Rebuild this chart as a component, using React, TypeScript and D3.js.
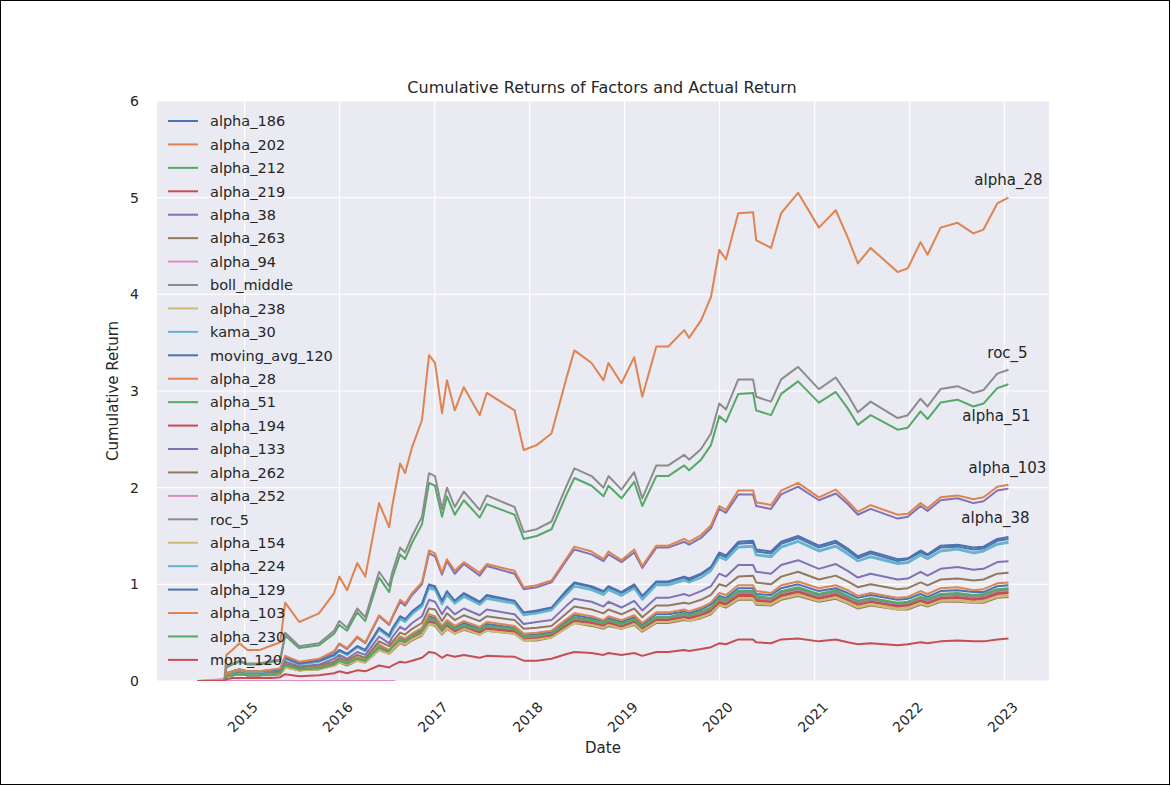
import React, { useEffect, useRef } from 'react';
import * as d3 from 'd3';

// sample dates shared by every series
const DATES = [
    '2014-07-04', '2014-10-15', '2014-10-23', '2014-11-15', '2014-12-12', '2015-01-12', '2015-02-26', '2015-04-17', '2015-05-18', '2015-06-06',
    '2015-07-30', '2015-10-14', '2015-12-11', '2015-12-31', '2016-01-30', '2016-03-09', '2016-04-09', '2016-06-01', '2016-07-10', '2016-07-21',
    '2016-08-21', '2016-09-09', '2016-10-06', '2016-11-13', '2016-12-10', '2017-01-02', '2017-01-29', '2017-02-17', '2017-03-19', '2017-04-23',
    '2017-06-23', '2017-07-20', '2017-11-04', '2017-12-09', '2018-01-28', '2018-03-26', '2018-05-23', '2018-06-22', '2018-08-27', '2018-10-12',
    '2018-10-31', '2018-12-20', '2019-02-07', '2019-03-10', '2019-05-03', '2019-06-18', '2019-08-18', '2019-09-06', '2019-10-22', '2019-11-29',
    '2019-12-31', '2020-01-26', '2020-03-13', '2020-05-09', '2020-05-21', '2020-07-17', '2020-08-25', '2020-10-29', '2021-01-17', '2021-03-23',
    '2021-05-08', '2021-06-16', '2021-08-04', '2021-11-16', '2021-12-25', '2022-02-12', '2022-03-11', '2022-04-30', '2022-07-04', '2022-09-03',
    '2022-10-12', '2022-12-04', '2023-01-16',
];

const alpha_186 = [0, 0, 0.05, 0.06, 0.08, 0.06, 0.06, 0.07, 0.08, 0.16, 0.12, 0.14, 0.18, 0.21, 0.19, 0.24, 0.21, 0.36, 0.31, 0.36, 0.45, 0.43, 0.48, 0.53, 0.67, 0.65, 0.55, 0.62, 0.55, 0.60, 0.54, 0.59, 0.55, 0.47, 0.48, 0.51, 0.62, 0.68, 0.65, 0.62, 0.65, 0.61, 0.66, 0.58, 0.69, 0.69, 0.72, 0.70, 0.74, 0.79, 0.88, 0.86, 0.96, 0.96, 0.90, 0.89, 0.96, 1.00, 0.93, 0.96, 0.91, 0.86, 0.89, 0.84, 0.85, 0.90, 0.87, 0.93, 0.94, 0.92, 0.92, 0.98, 0.99];
const alpha_202 = [0, 0, 0.06, 0.07, 0.08, 0.07, 0.07, 0.08, 0.08, 0.17, 0.12, 0.14, 0.19, 0.22, 0.19, 0.25, 0.22, 0.38, 0.32, 0.37, 0.46, 0.44, 0.49, 0.55, 0.69, 0.67, 0.57, 0.63, 0.57, 0.62, 0.56, 0.61, 0.57, 0.49, 0.50, 0.52, 0.64, 0.70, 0.67, 0.63, 0.67, 0.63, 0.68, 0.60, 0.71, 0.71, 0.74, 0.72, 0.76, 0.81, 0.91, 0.89, 0.99, 0.99, 0.93, 0.91, 0.99, 1.03, 0.96, 0.99, 0.94, 0.88, 0.91, 0.86, 0.87, 0.93, 0.90, 0.96, 0.97, 0.94, 0.95, 1.01, 1.02];
const alpha_212 = [0, 0, 0.05, 0.06, 0.07, 0.06, 0.06, 0.07, 0.08, 0.15, 0.12, 0.13, 0.17, 0.21, 0.18, 0.23, 0.21, 0.35, 0.30, 0.34, 0.43, 0.41, 0.46, 0.51, 0.64, 0.63, 0.53, 0.59, 0.53, 0.58, 0.52, 0.57, 0.53, 0.45, 0.46, 0.49, 0.60, 0.65, 0.63, 0.59, 0.63, 0.59, 0.64, 0.56, 0.66, 0.66, 0.69, 0.67, 0.71, 0.75, 0.85, 0.83, 0.92, 0.92, 0.87, 0.85, 0.92, 0.96, 0.89, 0.93, 0.87, 0.82, 0.85, 0.80, 0.81, 0.86, 0.84, 0.89, 0.90, 0.88, 0.89, 0.94, 0.95];
const alpha_219 = [0, 0, 0.05, 0.06, 0.07, 0.06, 0.06, 0.07, 0.07, 0.15, 0.11, 0.13, 0.17, 0.20, 0.17, 0.22, 0.20, 0.34, 0.29, 0.33, 0.41, 0.40, 0.45, 0.50, 0.62, 0.61, 0.51, 0.57, 0.52, 0.56, 0.51, 0.55, 0.52, 0.44, 0.45, 0.47, 0.58, 0.63, 0.61, 0.57, 0.61, 0.57, 0.62, 0.54, 0.64, 0.64, 0.67, 0.65, 0.69, 0.73, 0.82, 0.80, 0.89, 0.89, 0.84, 0.82, 0.89, 0.93, 0.86, 0.90, 0.84, 0.79, 0.82, 0.78, 0.79, 0.84, 0.81, 0.86, 0.87, 0.85, 0.86, 0.91, 0.92];
const alpha_38 = [0, 0, 0.08, 0.10, 0.12, 0.10, 0.10, 0.11, 0.12, 0.25, 0.19, 0.22, 0.30, 0.38, 0.33, 0.45, 0.39, 0.67, 0.58, 0.65, 0.82, 0.78, 0.89, 1.00, 1.32, 1.29, 1.10, 1.24, 1.11, 1.21, 1.09, 1.19, 1.11, 0.95, 0.97, 1.02, 1.25, 1.36, 1.31, 1.24, 1.31, 1.23, 1.33, 1.17, 1.38, 1.38, 1.44, 1.41, 1.48, 1.58, 1.78, 1.74, 1.93, 1.93, 1.81, 1.78, 1.93, 2.01, 1.87, 1.94, 1.83, 1.72, 1.78, 1.68, 1.70, 1.81, 1.76, 1.87, 1.89, 1.84, 1.86, 1.97, 1.99];
const alpha_263 = [0, 0, 0.05, 0.06, 0.07, 0.06, 0.06, 0.06, 0.07, 0.14, 0.11, 0.12, 0.16, 0.19, 0.16, 0.21, 0.19, 0.32, 0.28, 0.31, 0.39, 0.37, 0.42, 0.47, 0.59, 0.57, 0.48, 0.54, 0.49, 0.53, 0.48, 0.52, 0.49, 0.42, 0.42, 0.45, 0.55, 0.60, 0.57, 0.54, 0.57, 0.54, 0.58, 0.51, 0.60, 0.60, 0.63, 0.62, 0.65, 0.69, 0.78, 0.76, 0.84, 0.84, 0.79, 0.78, 0.84, 0.88, 0.82, 0.85, 0.80, 0.75, 0.78, 0.74, 0.74, 0.79, 0.77, 0.82, 0.82, 0.81, 0.81, 0.86, 0.87];
const alpha_94 = [0, 0.02, 0.01, 0, 0, 0, 0, 0, 0, 0, 0, 0, 0, 0, 0, 0, 0, 0, 0, 0, -0.02, -0.02, -0.02, -0.02, -0.03, -0.03, -0.03, -0.03, -0.03, -0.03, -0.03, -0.03, -0.03, -0.03, -0.03, -0.03, -0.03, -0.03, -0.03, -0.03, -0.03, -0.03, -0.03, -0.03, -0.03, -0.03, -0.03, -0.03, -0.03, -0.03, -0.03, -0.03, -0.03, -0.03, -0.03, -0.03, -0.03, -0.03, -0.03, -0.03, -0.03, -0.03, -0.03, -0.03, -0.03, -0.03, -0.03, -0.03, -0.03, -0.03, -0.03, -0.03, -0.03];
const boll_middle = [0, 0, 0.05, 0.06, 0.07, 0.06, 0.06, 0.07, 0.08, 0.15, 0.11, 0.13, 0.17, 0.20, 0.18, 0.23, 0.20, 0.35, 0.30, 0.34, 0.42, 0.40, 0.45, 0.51, 0.63, 0.62, 0.52, 0.58, 0.53, 0.57, 0.52, 0.56, 0.53, 0.45, 0.46, 0.48, 0.59, 0.64, 0.62, 0.58, 0.62, 0.58, 0.63, 0.55, 0.65, 0.65, 0.68, 0.67, 0.70, 0.75, 0.84, 0.82, 0.91, 0.91, 0.86, 0.84, 0.91, 0.95, 0.88, 0.92, 0.86, 0.81, 0.84, 0.80, 0.80, 0.85, 0.83, 0.88, 0.89, 0.87, 0.88, 0.93, 0.94];
const alpha_238 = [0, 0, 0.05, 0.06, 0.07, 0.06, 0.06, 0.07, 0.07, 0.14, 0.11, 0.12, 0.16, 0.19, 0.17, 0.22, 0.19, 0.33, 0.28, 0.32, 0.40, 0.38, 0.43, 0.48, 0.60, 0.59, 0.49, 0.55, 0.50, 0.54, 0.49, 0.53, 0.50, 0.43, 0.43, 0.46, 0.56, 0.61, 0.59, 0.55, 0.59, 0.55, 0.60, 0.52, 0.62, 0.62, 0.65, 0.63, 0.66, 0.71, 0.79, 0.78, 0.86, 0.86, 0.81, 0.80, 0.86, 0.90, 0.83, 0.87, 0.82, 0.77, 0.80, 0.75, 0.76, 0.81, 0.78, 0.83, 0.84, 0.82, 0.83, 0.88, 0.89];
const kama_30 = [0, 0, 0.08, 0.09, 0.11, 0.09, 0.09, 0.11, 0.11, 0.23, 0.17, 0.20, 0.26, 0.31, 0.27, 0.35, 0.31, 0.53, 0.45, 0.51, 0.64, 0.61, 0.69, 0.77, 0.96, 0.94, 0.79, 0.89, 0.80, 0.87, 0.79, 0.85, 0.80, 0.68, 0.70, 0.73, 0.90, 0.98, 0.94, 0.89, 0.94, 0.88, 0.96, 0.84, 0.99, 0.99, 1.04, 1.02, 1.07, 1.14, 1.28, 1.25, 1.38, 1.39, 1.30, 1.28, 1.38, 1.44, 1.34, 1.39, 1.31, 1.24, 1.28, 1.21, 1.22, 1.30, 1.26, 1.34, 1.36, 1.32, 1.34, 1.41, 1.43];
const moving_avg_120 = [0, 0, 0.08, 0.09, 0.11, 0.09, 0.09, 0.11, 0.12, 0.24, 0.18, 0.21, 0.27, 0.32, 0.28, 0.36, 0.32, 0.54, 0.47, 0.53, 0.66, 0.63, 0.71, 0.79, 0.99, 0.97, 0.81, 0.91, 0.82, 0.89, 0.81, 0.88, 0.82, 0.70, 0.72, 0.75, 0.92, 1.01, 0.97, 0.91, 0.97, 0.91, 0.98, 0.86, 1.02, 1.02, 1.07, 1.04, 1.10, 1.17, 1.31, 1.28, 1.42, 1.43, 1.34, 1.32, 1.42, 1.48, 1.38, 1.43, 1.35, 1.27, 1.32, 1.24, 1.26, 1.33, 1.30, 1.38, 1.39, 1.36, 1.37, 1.45, 1.47];
const alpha_28 = [0, 0, 0.27, 0.32, 0.39, 0.32, 0.32, 0.37, 0.40, 0.81, 0.61, 0.70, 0.91, 1.08, 0.94, 1.22, 1.08, 1.84, 1.59, 1.80, 2.25, 2.15, 2.42, 2.70, 3.37, 3.29, 2.77, 3.11, 2.80, 3.04, 2.75, 2.98, 2.80, 2.39, 2.44, 2.56, 3.14, 3.42, 3.29, 3.11, 3.29, 3.08, 3.35, 2.94, 3.46, 3.46, 3.63, 3.55, 3.73, 3.97, 4.46, 4.36, 4.84, 4.85, 4.56, 4.48, 4.84, 5.05, 4.69, 4.87, 4.59, 4.32, 4.48, 4.23, 4.27, 4.54, 4.41, 4.69, 4.74, 4.63, 4.67, 4.94, 5.00];
const alpha_51 = [0, 0, 0.14, 0.17, 0.20, 0.17, 0.17, 0.20, 0.21, 0.47, 0.34, 0.37, 0.49, 0.58, 0.52, 0.71, 0.62, 1.07, 0.92, 1.06, 1.31, 1.26, 1.43, 1.62, 2.05, 2.02, 1.70, 1.91, 1.72, 1.87, 1.69, 1.83, 1.72, 1.47, 1.50, 1.57, 1.93, 2.10, 2.02, 1.91, 2.02, 1.89, 2.06, 1.81, 2.12, 2.12, 2.23, 2.18, 2.29, 2.44, 2.74, 2.68, 2.97, 2.98, 2.80, 2.75, 2.97, 3.10, 2.88, 2.99, 2.82, 2.65, 2.75, 2.60, 2.62, 2.79, 2.71, 2.88, 2.91, 2.84, 2.87, 3.03, 3.07];
const alpha_194 = [0, 0, 0.05, 0.06, 0.07, 0.06, 0.06, 0.07, 0.07, 0.15, 0.11, 0.13, 0.17, 0.20, 0.17, 0.22, 0.20, 0.33, 0.29, 0.33, 0.41, 0.39, 0.44, 0.49, 0.61, 0.60, 0.50, 0.57, 0.51, 0.55, 0.50, 0.54, 0.51, 0.43, 0.44, 0.47, 0.57, 0.62, 0.60, 0.57, 0.60, 0.56, 0.61, 0.54, 0.63, 0.63, 0.66, 0.65, 0.68, 0.72, 0.81, 0.79, 0.88, 0.88, 0.83, 0.82, 0.88, 0.92, 0.85, 0.89, 0.84, 0.79, 0.82, 0.77, 0.78, 0.83, 0.80, 0.85, 0.86, 0.84, 0.85, 0.90, 0.91];
const alpha_133 = [0, 0, 0.07, 0.08, 0.10, 0.08, 0.08, 0.09, 0.10, 0.20, 0.15, 0.17, 0.23, 0.27, 0.23, 0.30, 0.27, 0.46, 0.39, 0.45, 0.56, 0.53, 0.60, 0.67, 0.84, 0.82, 0.69, 0.77, 0.69, 0.75, 0.68, 0.74, 0.69, 0.59, 0.61, 0.63, 0.78, 0.85, 0.82, 0.77, 0.82, 0.76, 0.83, 0.73, 0.86, 0.86, 0.90, 0.88, 0.93, 0.98, 1.11, 1.08, 1.20, 1.20, 1.13, 1.11, 1.20, 1.25, 1.16, 1.21, 1.14, 1.07, 1.11, 1.05, 1.06, 1.13, 1.09, 1.16, 1.18, 1.15, 1.16, 1.23, 1.24];
const alpha_262 = [0, 0, 0.06, 0.07, 0.09, 0.07, 0.07, 0.08, 0.09, 0.18, 0.14, 0.16, 0.20, 0.24, 0.21, 0.27, 0.24, 0.41, 0.36, 0.40, 0.50, 0.48, 0.54, 0.60, 0.75, 0.74, 0.62, 0.70, 0.63, 0.68, 0.62, 0.67, 0.63, 0.54, 0.55, 0.57, 0.70, 0.77, 0.74, 0.70, 0.74, 0.69, 0.75, 0.66, 0.78, 0.78, 0.81, 0.80, 0.84, 0.89, 1.00, 0.98, 1.08, 1.09, 1.02, 1.00, 1.08, 1.13, 1.05, 1.09, 1.03, 0.97, 1.00, 0.95, 0.96, 1.02, 0.99, 1.05, 1.06, 1.04, 1.05, 1.11, 1.12];
const alpha_252 = [0, 0.01, 0.01, 0, 0, 0, 0, 0, 0, 0, 0, 0, 0, 0, 0, 0, 0, 0, 0, 0, -0.02, -0.02, -0.02, -0.02, -0.03, -0.03, -0.03, -0.03, -0.03, -0.03, -0.03, -0.03, -0.03, -0.03, -0.03, -0.03, -0.03, -0.03, -0.03, -0.03, -0.03, -0.03, -0.03, -0.03, -0.03, -0.03, -0.03, -0.03, -0.03, -0.03, -0.03, -0.03, -0.03, -0.03, -0.03, -0.03, -0.03, -0.03, -0.03, -0.03, -0.03, -0.03, -0.03, -0.03, -0.03, -0.03, -0.03, -0.03, -0.03, -0.03, -0.03, -0.03, -0.03];
const roc_5 = [0, 0, 0.15, 0.18, 0.21, 0.18, 0.18, 0.21, 0.22, 0.50, 0.36, 0.39, 0.52, 0.62, 0.55, 0.75, 0.66, 1.13, 0.98, 1.12, 1.38, 1.33, 1.50, 1.70, 2.15, 2.12, 1.78, 2.00, 1.80, 1.96, 1.77, 1.92, 1.80, 1.54, 1.57, 1.65, 2.02, 2.20, 2.12, 2.00, 2.12, 1.98, 2.16, 1.89, 2.23, 2.23, 2.34, 2.29, 2.40, 2.56, 2.87, 2.81, 3.12, 3.12, 2.94, 2.89, 3.12, 3.25, 3.02, 3.14, 2.96, 2.78, 2.89, 2.72, 2.75, 2.92, 2.84, 3.02, 3.05, 2.98, 3.01, 3.18, 3.22];
const alpha_154 = [0, 0, 0.05, 0.06, 0.07, 0.06, 0.06, 0.07, 0.07, 0.14, 0.11, 0.12, 0.16, 0.19, 0.17, 0.21, 0.19, 0.32, 0.28, 0.32, 0.40, 0.38, 0.43, 0.48, 0.59, 0.58, 0.49, 0.55, 0.49, 0.54, 0.48, 0.52, 0.49, 0.42, 0.43, 0.45, 0.55, 0.60, 0.58, 0.55, 0.58, 0.54, 0.59, 0.52, 0.61, 0.61, 0.64, 0.62, 0.66, 0.70, 0.78, 0.77, 0.85, 0.85, 0.80, 0.79, 0.85, 0.89, 0.83, 0.86, 0.81, 0.76, 0.79, 0.74, 0.75, 0.80, 0.78, 0.83, 0.83, 0.81, 0.82, 0.87, 0.88];
const alpha_224 = [0, 0, 0.08, 0.09, 0.11, 0.09, 0.09, 0.11, 0.12, 0.23, 0.18, 0.20, 0.26, 0.31, 0.27, 0.35, 0.31, 0.53, 0.46, 0.52, 0.65, 0.62, 0.70, 0.78, 0.97, 0.95, 0.80, 0.90, 0.81, 0.88, 0.79, 0.86, 0.81, 0.69, 0.70, 0.74, 0.90, 0.98, 0.95, 0.90, 0.95, 0.89, 0.96, 0.85, 1.00, 1.00, 1.05, 1.02, 1.07, 1.14, 1.28, 1.26, 1.39, 1.40, 1.31, 1.29, 1.39, 1.45, 1.35, 1.40, 1.32, 1.24, 1.29, 1.22, 1.23, 1.31, 1.27, 1.35, 1.37, 1.33, 1.35, 1.42, 1.44];
const alpha_129 = [0, 0, 0.08, 0.10, 0.12, 0.10, 0.10, 0.11, 0.12, 0.24, 0.18, 0.21, 0.27, 0.32, 0.28, 0.36, 0.32, 0.55, 0.47, 0.54, 0.67, 0.64, 0.72, 0.80, 1.00, 0.98, 0.83, 0.93, 0.83, 0.91, 0.82, 0.89, 0.83, 0.71, 0.73, 0.76, 0.94, 1.02, 0.98, 0.93, 0.98, 0.92, 1.00, 0.88, 1.03, 1.03, 1.08, 1.06, 1.11, 1.18, 1.33, 1.30, 1.44, 1.45, 1.36, 1.34, 1.44, 1.50, 1.40, 1.45, 1.37, 1.29, 1.34, 1.26, 1.27, 1.35, 1.31, 1.40, 1.41, 1.38, 1.39, 1.47, 1.49];
const alpha_103 = [0, 0, 0.08, 0.10, 0.12, 0.10, 0.10, 0.12, 0.13, 0.26, 0.20, 0.23, 0.31, 0.39, 0.34, 0.46, 0.40, 0.68, 0.59, 0.66, 0.84, 0.80, 0.91, 1.02, 1.35, 1.32, 1.12, 1.26, 1.14, 1.23, 1.12, 1.21, 1.14, 0.97, 0.99, 1.04, 1.27, 1.39, 1.34, 1.26, 1.34, 1.25, 1.36, 1.19, 1.40, 1.40, 1.47, 1.44, 1.51, 1.61, 1.81, 1.77, 1.97, 1.97, 1.85, 1.82, 1.97, 2.05, 1.90, 1.98, 1.86, 1.75, 1.82, 1.72, 1.73, 1.84, 1.79, 1.90, 1.92, 1.88, 1.90, 2.01, 2.03];
const alpha_230 = [0, 0, 0.05, 0.06, 0.07, 0.06, 0.06, 0.07, 0.08, 0.16, 0.12, 0.13, 0.17, 0.21, 0.18, 0.23, 0.21, 0.35, 0.31, 0.35, 0.43, 0.41, 0.46, 0.52, 0.65, 0.63, 0.53, 0.60, 0.54, 0.58, 0.53, 0.57, 0.54, 0.46, 0.47, 0.49, 0.60, 0.66, 0.63, 0.60, 0.63, 0.59, 0.64, 0.56, 0.66, 0.66, 0.70, 0.68, 0.72, 0.76, 0.86, 0.84, 0.93, 0.93, 0.88, 0.86, 0.93, 0.97, 0.90, 0.94, 0.88, 0.83, 0.86, 0.81, 0.82, 0.87, 0.85, 0.90, 0.91, 0.89, 0.90, 0.95, 0.96];
const mom_120 = [0, 0, 0.02, 0.03, 0.03, 0.03, 0.03, 0.03, 0.04, 0.07, 0.05, 0.06, 0.08, 0.10, 0.08, 0.11, 0.10, 0.16, 0.14, 0.16, 0.20, 0.19, 0.21, 0.24, 0.30, 0.29, 0.24, 0.27, 0.25, 0.27, 0.24, 0.26, 0.25, 0.21, 0.21, 0.23, 0.28, 0.30, 0.29, 0.27, 0.29, 0.27, 0.29, 0.26, 0.30, 0.30, 0.32, 0.31, 0.33, 0.35, 0.39, 0.38, 0.43, 0.43, 0.40, 0.39, 0.43, 0.44, 0.41, 0.43, 0.40, 0.38, 0.39, 0.37, 0.38, 0.40, 0.39, 0.41, 0.42, 0.41, 0.41, 0.43, 0.44];

const SERIES_NAMES = [
    'alpha_186', 'alpha_202', 'alpha_212', 'alpha_219', 'alpha_38', 'alpha_263', 'alpha_94', 'boll_middle',
    'alpha_238', 'kama_30', 'moving_avg_120', 'alpha_28', 'alpha_51', 'alpha_194', 'alpha_133', 'alpha_262',
    'alpha_252', 'roc_5', 'alpha_154', 'alpha_224', 'alpha_129', 'alpha_103', 'alpha_230', 'mom_120',
];
const SERIES_VALUES = [
    alpha_186, alpha_202, alpha_212, alpha_219, alpha_38, alpha_263, alpha_94, boll_middle,
    alpha_238, kama_30, moving_avg_120, alpha_28, alpha_51, alpha_194, alpha_133, alpha_262,
    alpha_252, roc_5, alpha_154, alpha_224, alpha_129, alpha_103, alpha_230, mom_120,
];

// labelled end points and where their text sits (pixel offset from the point)
const LABELLED = ['alpha_28', 'roc_5', 'alpha_51', 'alpha_103', 'alpha_38'];
const LABEL_OFFSETS = [[0, -18], [-1, -17], [-12, 31], [-1, -17], [-13, 29]];

const Y_TICKS = [0, 1, 2, 3, 4, 5, 6];
const X_TICK_YEARS = ['2015', '2016', '2017', '2018', '2019', '2020', '2021', '2022', '2023'];

// seaborn "deep"
const PALETTE = ['#4C72B0', '#DD8452', '#55A868', '#C44E52', '#8172B3', '#937860', '#DA8BC3', '#8C8C8C', '#CCB974', '#64B5CD'];

const W = 1171;
const H = 786;
const FONT = '"DejaVu Sans", Verdana, sans-serif';
const TEXT = '#262626';

function App() {
    const ref = useRef(null);

    useEffect(() => {
        const root = d3.select(ref.current);
        root.selectAll('*').remove();

        const svg = root.append('svg')
            .attr('width', W)
            .attr('height', H)
            .style('display', 'block')
            .style('background', '#fff');

        // frame round the picture
        svg.append('rect')
            .attr('x', 0.5).attr('y', 0.5)
            .attr('width', W - 2).attr('height', H - 2)
            .attr('fill', 'none').attr('stroke', '#000').attr('stroke-width', 1);

        const left = 157, right = 1049, top = 101, bottom = 681;

        const parse = d3.timeParse('%Y-%m-%d');
        const dates = DATES.map(parse);
        const [d0, d1] = d3.extent(dates);
        const pad = (d1.getTime() - d0.getTime()) * 0.05;

        const x = d3.scaleTime()
            .domain([new Date(d0.getTime() - pad), new Date(d1.getTime() + pad)])
            .range([left, right]);
        const y = d3.scaleLinear().domain([0, 6]).range([bottom, top]);

        svg.append('rect')
            .attr('x', left).attr('y', top)
            .attr('width', right - left).attr('height', bottom - top)
            .attr('fill', '#EAEAF2');

        svg.append('clipPath').attr('id', 'plot-clip')
            .append('rect')
            .attr('x', left).attr('y', top)
            .attr('width', right - left).attr('height', bottom - top);

        const xTicks = X_TICK_YEARS.map((t) => parse(`${t}-01-01`));

        // grid
        const grid = svg.append('g').attr('stroke', '#fff').attr('stroke-width', 1.2);
        grid.selectAll('.gx').data(xTicks).enter().append('line')
            .attr('x1', (d) => x(d)).attr('x2', (d) => x(d))
            .attr('y1', top).attr('y2', bottom);
        grid.selectAll('.gy').data(Y_TICKS).enter().append('line')
            .attr('x1', left).attr('x2', right)
            .attr('y1', (d) => y(d)).attr('y2', (d) => y(d));

        // lines
        const line = d3.line()
            .x((d) => x(d[0]))
            .y((d) => y(d[1]));

        const plot = svg.append('g').attr('clip-path', 'url(#plot-clip)');
        SERIES_VALUES.forEach((vals, i) => {
            plot.append('path')
                .datum(vals.map((v, j) => [dates[j], v]))
                .attr('d', line)
                .attr('fill', 'none')
                .attr('stroke', PALETTE[i % 10])
                .attr('stroke-width', 2)
                .attr('stroke-linejoin', 'round');
        });

        // tick labels
        svg.append('g').selectAll('text').data(Y_TICKS).enter().append('text')
            .attr('x', 139)
            .attr('y', (d) => y(d))
            .attr('dy', '0.36em')
            .attr('text-anchor', 'end')
            .style('font-family', FONT).style('font-size', '14px').style('fill', TEXT)
            .text((d) => d);

        svg.append('g').selectAll('text').data(xTicks).enter().append('text')
            .attr('transform', (d) => `translate(${x(d) - 2}, 717) rotate(-45)`)
            .attr('dy', '0.36em')
            .attr('text-anchor', 'middle')
            .style('font-family', FONT).style('font-size', '14px').style('fill', TEXT)
            .text((d, i) => X_TICK_YEARS[i]);

        // axis labels and title
        svg.append('text')
            .attr('x', (left + right) / 2).attr('y', 753)
            .attr('text-anchor', 'middle')
            .style('font-family', FONT).style('font-size', '15px').style('fill', TEXT)
            .text('Date');
        svg.append('text')
            .attr('transform', `translate(118, ${(top + bottom) / 2}) rotate(-90)`)
            .attr('text-anchor', 'middle')
            .style('font-family', FONT).style('font-size', '15px').style('fill', TEXT)
            .text('Cumulative Return');
        svg.append('text')
            .attr('x', (left + right) / 2 - 1).attr('y', 93)
            .attr('text-anchor', 'middle')
            .style('font-family', FONT).style('font-size', '16px').style('fill', TEXT)
            .text('Cumulative Returns of Factors and Actual Return');

        // legend
        const legend = svg.append('g');
        SERIES_NAMES.forEach((name, i) => {
            const ly = 121 + i * 23.43;
            legend.append('line')
                .attr('x1', 168).attr('x2', 198)
                .attr('y1', ly).attr('y2', ly)
                .attr('stroke', PALETTE[i % 10]).attr('stroke-width', 2);
            legend.append('text')
                .attr('x', 210).attr('y', ly)
                .attr('dy', '0.36em')
                .style('font-family', FONT).style('font-size', '14.5px').style('fill', TEXT)
                .text(name);
        });

        // end-point annotations
        const last = dates.length - 1;
        LABELLED.forEach((name, k) => {
            const vals = SERIES_VALUES[SERIES_NAMES.indexOf(name)];
            const px = x(dates[last]);
            const py = y(vals[last]);
            const [ox, oy] = LABEL_OFFSETS[k];
            const sign = oy < 0 ? 1 : -1;
            svg.append('line')
                .attr('x1', px - 1).attr('y1', py - sign * 10)
                .attr('x2', px).attr('y2', py - sign * 1)
                .attr('stroke', '#fff').attr('stroke-width', 1);
            svg.append('text')
                .attr('x', px + ox).attr('y', py + oy)
                .attr('dy', '0.36em')
                .attr('text-anchor', 'middle')
                .style('font-family', FONT).style('font-size', '15px').style('fill', TEXT)
                .text(name);
        });
    }, []);

    return <div ref={ref} style={{ position: 'absolute', left: 0, top: 0 }} />;
}

export default App;
